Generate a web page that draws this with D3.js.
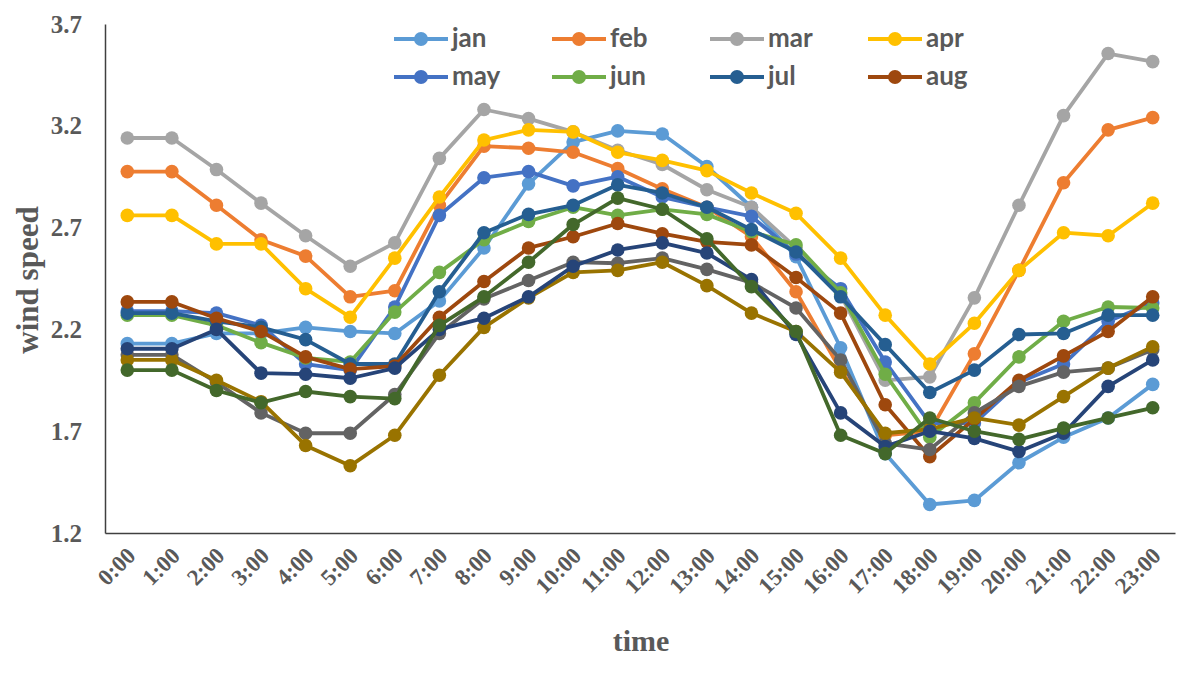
<!DOCTYPE html>
<html><head><meta charset="utf-8">
<script src="https://cdn.jsdelivr.net/npm/d3@7"></script>
<style>body{margin:0;background:#fff;}svg{display:block;}</style>
</head><body>
<script>
const hours = ["0:00","1:00","2:00","3:00","4:00","5:00","6:00","7:00","8:00","9:00","10:00","11:00","12:00","13:00","14:00","15:00","16:00","17:00","18:00","19:00","20:00","21:00","22:00","23:00"];
const yTicks = [1.2,1.7,2.2,2.7,3.2,3.7];
const months = ["jan","feb","mar","apr","may","jun","jul","aug","sep","oct","nov","dec"];
const legendMonths = ["jan","feb","mar","apr","may","jun","jul","aug"];
const colors = ["#5B9BD5","#ED7D31","#A5A5A5","#FFC000","#4472C4","#70AD47","#255E91","#9E480E","#636363","#997300","#264478","#43682B"];
const jan = [2.13,2.13,2.18,2.18,2.21,2.19,2.18,2.34,2.60,2.915,3.12,3.175,3.16,3.0,2.80,2.557,2.11,1.59,1.34,1.36,1.545,1.67,1.765,1.93];
const feb = [2.975,2.975,2.81,2.64,2.56,2.36,2.39,2.81,3.10,3.09,3.07,2.99,2.89,2.80,2.655,2.385,2.0,1.68,1.70,2.08,2.49,2.92,3.18,3.24];
const mar = [3.14,3.14,2.985,2.82,2.66,2.51,2.625,3.04,3.28,3.235,3.17,3.08,3.01,2.886,2.80,2.6,2.37,1.95,1.967,2.355,2.81,3.25,3.555,3.515];
const apr = [2.76,2.76,2.62,2.62,2.40,2.26,2.55,2.85,3.13,3.18,3.17,3.07,3.03,2.98,2.87,2.77,2.55,2.27,2.03,2.23,2.49,2.675,2.66,2.82];
const may = [2.29,2.29,2.28,2.22,2.03,2.0,2.31,2.76,2.945,2.975,2.905,2.95,2.85,2.80,2.755,2.57,2.40,2.04,1.74,1.74,1.94,2.03,2.24,2.33];
const jun = [2.27,2.27,2.22,2.135,2.06,2.04,2.285,2.48,2.64,2.73,2.80,2.76,2.79,2.765,2.68,2.615,2.38,1.98,1.67,1.84,2.065,2.24,2.31,2.305];
const jul = [2.28,2.28,2.24,2.21,2.15,2.03,2.03,2.385,2.675,2.765,2.81,2.91,2.87,2.80,2.69,2.58,2.36,2.125,1.89,2.0,2.175,2.18,2.27,2.27];
const aug = [2.335,2.335,2.255,2.19,2.065,2.005,2.02,2.26,2.435,2.60,2.655,2.72,2.67,2.63,2.615,2.455,2.28,1.83,1.575,1.76,1.95,2.07,2.19,2.36];
const sep = [2.075,2.075,1.94,1.79,1.69,1.69,1.88,2.18,2.35,2.44,2.53,2.525,2.55,2.495,2.43,2.305,2.05,1.64,1.61,1.79,1.92,1.99,2.01,2.10];
const oct = [2.05,2.05,1.95,1.845,1.63,1.53,1.68,1.975,2.21,2.355,2.48,2.49,2.53,2.415,2.28,2.19,1.99,1.69,1.71,1.765,1.73,1.87,2.01,2.115];
const nov = [2.105,2.105,2.2,1.985,1.98,1.96,2.01,2.2,2.255,2.36,2.51,2.59,2.625,2.575,2.445,2.175,1.79,1.625,1.70,1.665,1.60,1.69,1.92,2.05];
const dec = [2.0,2.0,1.90,1.84,1.895,1.87,1.86,2.22,2.36,2.53,2.715,2.845,2.79,2.645,2.41,2.19,1.68,1.59,1.765,1.70,1.66,1.715,1.765,1.815];
const seriesValues = [jan,feb,mar,apr,may,jun,jul,aug,sep,oct,nov,dec];

const W = 1183, H = 674;
const svg = d3.select("body").append("svg").attr("width", W).attr("height", H);
const mLeft = 105, mRight = 1175, mTop = 24, mBottom = 533;
const x = d3.scalePoint().domain(hours).range([mLeft, mRight]).padding(0.5);
const y = d3.scaleLinear().domain([1.2, 3.7]).range([mBottom, mTop]);
const gray = "#595959";
const serif = "'Liberation Serif','Times New Roman',serif";

// axes
const yAxis = svg.append("g").attr("transform", `translate(${mLeft},0)`)
  .call(d3.axisLeft(y).tickValues(yTicks).tickSize(0).tickPadding(23).tickFormat(d3.format(".1f")));
yAxis.select(".domain").attr("stroke", "#404040").attr("stroke-width", 1.5);
yAxis.selectAll("text").attr("font-family", serif).attr("font-weight", "bold").attr("font-size", 25).attr("fill", gray);

const xAxis = svg.append("g").attr("transform", `translate(0,${mBottom})`)
  .call(d3.axisBottom(x).tickSize(0).tickPadding(0));
xAxis.select(".domain").attr("stroke", "#404040").attr("stroke-width", 1.5);
xAxis.selectAll("text")
  .attr("font-family", serif).attr("font-weight", "bold").attr("font-size", 23).attr("fill", gray)
  .attr("text-anchor", "end").attr("dy", 0).attr("y", 0)
  .attr("transform", "translate(9,24) rotate(-45)");

// axis titles
svg.append("text").attr("x", 641).attr("y", 651).attr("text-anchor", "middle")
  .attr("font-family", serif).attr("font-weight", "bold").attr("font-size", 30).attr("fill", gray).text("time");
svg.append("text").attr("transform", "translate(38,280) rotate(-90)").attr("text-anchor", "middle")
  .attr("font-family", serif).attr("font-weight", "bold").attr("font-size", 31).attr("fill", gray).text("wind speed");

// series
const line = d3.line().x((d, i) => x(hours[i])).y(d => y(d));
months.forEach((m, k) => {
  const g = svg.append("g");
  g.append("path").datum(seriesValues[k]).attr("d", line).attr("fill", "none")
    .attr("stroke", colors[k]).attr("stroke-width", 3.8).attr("stroke-linejoin", "round");
  g.selectAll("circle").data(seriesValues[k]).join("circle")
    .attr("cx", (d, i) => x(hours[i])).attr("cy", d => y(d)).attr("r", 6.8).attr("fill", colors[k]);
});

// legend
const legX = [394, 552, 710, 868];
const legY = [39, 77];
legendMonths.forEach((m, k) => {
  const cx = legX[k % 4], cy = legY[Math.floor(k / 4)];
  const g = svg.append("g").attr("transform", `translate(${cx},${cy})`);
  g.append("line").attr("x1", 0).attr("x2", 54).attr("y1", 0).attr("y2", 0)
    .attr("stroke", colors[k]).attr("stroke-width", 3.8);
  g.append("circle").attr("cx", 27).attr("cy", 0).attr("r", 7).attr("fill", colors[k]);
  g.append("text").attr("x", 58).attr("y", 8).attr("font-family", "Lato,'Open Sans',sans-serif")
    .attr("font-weight", "bold").attr("font-size", 26).attr("fill", gray).text(m);
});
</script>
</body></html>
